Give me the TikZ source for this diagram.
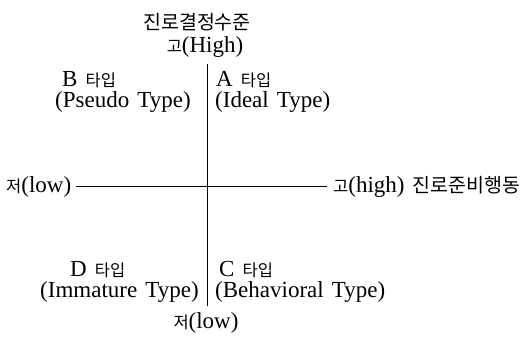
\documentclass[tikz,border=0pt]{standalone}
\usepackage{fontspec}
\setmainfont{Liberation Serif}[WordSpace=1.4]
\newfontfamily\kr{Noto Sans CJK KR}
\tikzset{
  lbl/.style={inner sep=0pt, anchor=base west, font=\fontsize{23}{26}\selectfont},
  lblc/.style={inner sep=0pt, anchor=base, font=\fontsize{23}{26}\selectfont},
  axis/.style={line width=0.8pt, black}
}
\newcommand{\ko}[1]{{\kr\fontsize{16.5}{20}\selectfont #1}}
\newcommand{\kt}[1]{{\kr\fontsize{19.5}{22}\selectfont #1}}
\begin{document}
\begin{tikzpicture}[x=1pt,y=-1pt]
\useasboundingbox (0,0) rectangle (530,337);
\fill[white] (0,0) rectangle (530,337);
% axes
\coordinate (top) at (207,64);
\coordinate (bot) at (207,306);
\coordinate (lft) at (76,186);
\coordinate (rgt) at (327,186);
\draw[axis] (top) -- (bot);
\draw[axis] (lft) -- (rgt);
% labels
\node[lblc] (title) at (197,30) {\kt{진로결정수준}};
\node[lblc] (high) at (205,53) {\ko{고}(High)};
\node[lbl] (bt) at (62,86) {B \ko{타입}};
\node[lbl] (bp) at (55,107) {(Pseudo Type)};
\node[lbl] (at) at (216,86) {A \ko{타입}};
\node[lbl] (ap) at (215,107) {(Ideal Type)};
\node[lbl] (lowl) at (6,192) {\ko{저}(low)};
\node[lbl] (highr) at (333,192) {\ko{고}(high)\hspace{8pt}\kt{진로준비행동}};
\node[lbl] (dt) at (70,276) {D \ko{타입}};
\node[lbl] (dp) at (40,297) {(Immature Type)};
\node[lbl] (ct) at (219,276) {C \ko{타입}};
\node[lbl] (cp) at (215,297) {(Behavioral Type)};
\node[lblc] (lowb) at (206,328) {\ko{저}(low)};
\end{tikzpicture}
\end{document}
